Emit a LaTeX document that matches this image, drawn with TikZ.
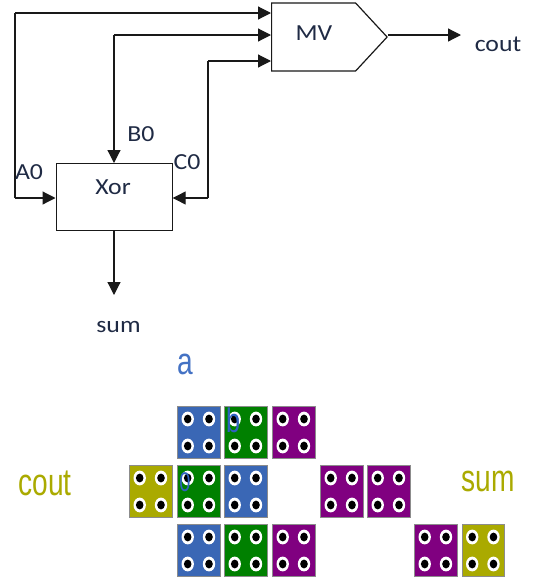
\documentclass[tikz,border=0pt]{standalone}
\usepackage{fontspec}
\setmainfont{Carlito}
\newfontfamily\narrowfont{Liberation Sans}
\usetikzlibrary{shapes.symbols,arrows.meta,calc}
\definecolor{cblue}{HTML}{3A67B5}
\definecolor{cgreen}{HTML}{008000}
\definecolor{cpurple}{HTML}{800080}
\definecolor{colive}{HTML}{AAAA00}
\definecolor{ctext}{HTML}{1F2A44}
\definecolor{lblue}{HTML}{4472C4}
\definecolor{hblue}{HTML}{2F62C0}
\newcommand{\dotcell}[4]{%
  \node[cellbox,fill=#1,anchor=north west] (#4) at (#2,#3) {};
  \foreach \dx/\dy in {10.7/13.5,32/13.5,10.7/40.5,32/40.5}{
    \fill[white] ($(#4.north west)+(\dx,\dy)$) ellipse [x radius=6.2,y radius=7.4];
    \fill[black] ($(#4.north west)+(\dx,\dy)$) ellipse [x radius=3.8,y radius=4.4];
  }}
\newcommand{\wide}[1]{\scalebox{1.12}[1]{#1}}
\newcommand{\narrow}[1]{\scalebox{.74}[1]{#1}}
\tikzset{
  x=1pt,y=-1pt,
  wire/.style={line width=1.2pt,draw=black!90,-{Triangle[length=13pt,width=13pt]}},
  plainwire/.style={line width=1.2pt,draw=black!90},
  blockbox/.style={draw=black!90,line width=1.2pt,inner sep=0pt},
  cellbox/.style={draw=black!45,line width=.5pt,minimum width=42.5pt,minimum height=52.5pt,inner sep=0pt},
  lab/.style={font=\fontsize{23}{26}\selectfont,text=ctext,inner sep=0pt},
  biglab/.style={font=\narrowfont\fontsize{38}{42}\selectfont,text=colive,inner sep=0pt},
  bluelab/.style={font=\narrowfont\fontsize{38}{42}\selectfont,text=lblue,inner sep=0pt},
  handb/.style={font=\narrowfont\fontsize{34}{36}\selectfont,text=hblue,inner sep=0pt},
  hando/.style={font=\narrowfont\fontsize{27}{30}\selectfont,text=hblue,inner sep=0pt},
}
\begin{document}
\begin{tikzpicture}
\useasboundingbox (0,0) rectangle (536,579);
% blocks
\node[blockbox,minimum width=116pt,minimum height=67pt,anchor=north west] (xor) at (55.5,163) {};
\node[lab] (xorlab) at (113,187) {\wide{Xor}};
\node[blockbox,signal,signal to=east,signal pointer angle=94.4,minimum width=115.5pt,minimum height=68pt,anchor=west] (mv) at (271,37) {};
\node[lab] (mvlab) at (314,33) {\wide{MV}};
% junction and free ends
\coordinate (acorner) at (15,13);
\coordinate (aleft) at (15,198);
\coordinate (bcorner) at (114,35);
\coordinate (ccorner) at (208,61);
\coordinate (cright) at (208,198);
\coordinate (ain) at (271,13);
\coordinate (bin) at (271,35);
\coordinate (cin) at (271,61);
\coordinate (coutend) at (461,35);
\coordinate (sumend) at (114,295);
% wires
\draw[wire] (aleft) -- (xor.west |- aleft);
\draw[plainwire] (aleft) -- (acorner);
\draw[wire] (acorner) -- (ain);
\draw[wire] (bcorner) -- (bcorner |- xor.north);
\draw[wire] (bcorner) -- (bin);
\draw[wire] (cright) -- (xor.east |- cright);
\draw[plainwire] (cright) -- (ccorner);
\draw[wire] (ccorner) -- (cin);
\draw[wire] (mv.east |- bin) -- (coutend);
\draw[wire] (xor.south -| sumend) -- (sumend);
% labels
\node[lab] (a0) at (29,172) {\wide{A0}};
\node[lab] (b0) at (141,134) {\wide{B0}};
\node[lab] (c0) at (187,162) {\wide{C0}};
\node[lab] (cout) at (498,44) {\wide{cout}};
\node[lab] (sum) at (118.5,327.5) {\wide{sum}};
\node[bluelab] (alab) at (185,364) {\narrow{a}};
\node[biglab] (coutbig) at (45,483) {\narrow{cout}};
\node[biglab] (sumbig) at (488,481) {\narrow{sum}};
% cells
\dotcell{cblue}{177}{405.5}{c1}
\dotcell{cgreen}{224}{405.5}{c2}
\dotcell{cpurple}{272}{405.5}{c3}
\dotcell{colive}{129}{464.5}{c4}
\dotcell{cgreen}{177}{464.5}{c5}
\dotcell{cblue}{224}{464.5}{c6}
\dotcell{cpurple}{320}{464.5}{c7}
\dotcell{cpurple}{367}{464.5}{c8}
\dotcell{cblue}{177}{523.5}{c9}
\dotcell{cgreen}{224}{523.5}{c10}
\dotcell{cpurple}{272}{523.5}{c11}
\dotcell{cpurple}{414}{523.5}{c12}
\dotcell{colive}{461.5}{523.5}{c13}
\node[handb] (hb) at (233,420) {\narrow{b}};
\node[hando] (h0) at (185,482) {\narrow{0}};
\end{tikzpicture}
\end{document}
